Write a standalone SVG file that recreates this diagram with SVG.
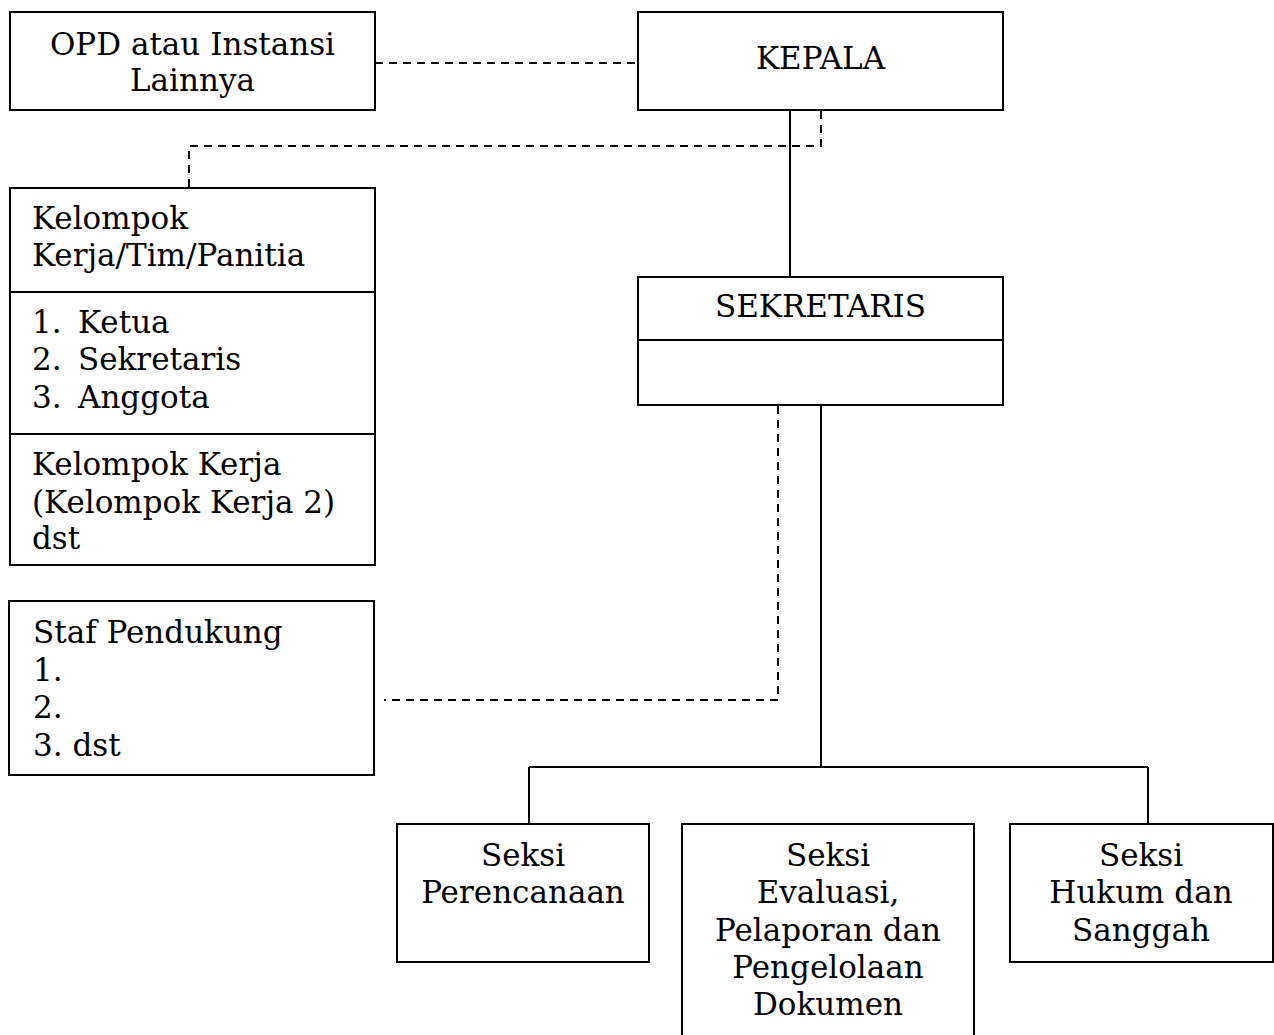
<svg xmlns="http://www.w3.org/2000/svg" width="1274" height="1035" viewBox="0 0 1274 1035">
<style>
.box{fill:#fff;stroke:#000;stroke-width:2}
.ln{fill:none;stroke:#000;stroke-width:2}
.dash{fill:none;stroke:#000;stroke-width:2;stroke-dasharray:8 6}
text{font-family:"DejaVu Serif","Liberation Serif",serif;font-size:31px;fill:#000}
.c{text-anchor:middle}
</style>
<rect width="1274" height="1035" fill="#fff"/>
<g id="connectors">
<path class="dash" d="M375 63H638"/>
<path class="dash" d="M821 111V146H189V187"/>
<path class="ln" d="M790 111V277"/>
<path class="dash" d="M778 406V700H384"/>
<path class="ln" d="M821 406V767"/>
<path class="ln" d="M529 767H1148"/>
<path class="ln" d="M529 767V824"/>
<path class="ln" d="M1148 767V824"/>
</g>
<g id="opd">
<rect class="box" x="10" y="12" width="365" height="98"/>
<text class="c" x="192.5" y="55">OPD atau Instansi</text>
<text class="c" x="192.5" y="91">Lainnya</text>
</g>
<g id="kepala">
<rect class="box" x="638" y="12" width="365" height="98"/>
<text class="c" x="820.5" y="69">KEPALA</text>
</g>
<g id="kelompok">
<rect class="box" x="10" y="188" width="365" height="377"/>
<path class="ln" d="M10 292H375M10 434H375"/>
<text x="32" y="229">Kelompok</text>
<text x="32" y="266">Kerja/Tim/Panitia</text>
<text x="32" y="333">1.</text><text x="78" y="333">Ketua</text>
<text x="32" y="370">2.</text><text x="78" y="370">Sekretaris</text>
<text x="32" y="408">3.</text><text x="78" y="408">Anggota</text>
<text x="32" y="475">Kelompok Kerja</text>
<text x="32" y="513">(Kelompok Kerja 2)</text>
<text x="32" y="549">dst</text>
</g>
<g id="sekretaris">
<rect class="box" x="638" y="277" width="365" height="128"/>
<path class="ln" d="M638 340H1003"/>
<text class="c" x="820.5" y="317">SEKRETARIS</text>
</g>
<g id="staf">
<rect class="box" x="9" y="601" width="365" height="174"/>
<text x="33" y="643">Staf Pendukung</text>
<text x="33" y="681">1.</text>
<text x="33" y="718">2.</text>
<text x="33" y="756">3. dst</text>
</g>
<g id="seksi-perencanaan">
<rect class="box" x="397" y="824" width="252" height="138"/>
<text class="c" x="523" y="866">Seksi</text>
<text class="c" x="523" y="903">Perencanaan</text>
</g>
<g id="seksi-evaluasi">
<rect class="box" x="682" y="824" width="292" height="220"/>
<text class="c" x="828" y="866">Seksi</text>
<text class="c" x="828" y="903">Evaluasi,</text>
<text class="c" x="828" y="941">Pelaporan dan</text>
<text class="c" x="828" y="978">Pengelolaan</text>
<text class="c" x="828" y="1015">Dokumen</text>
</g>
<g id="seksi-hukum">
<rect class="box" x="1010" y="824" width="263" height="138"/>
<text class="c" x="1141" y="866">Seksi</text>
<text class="c" x="1141" y="903">Hukum dan</text>
<text class="c" x="1141" y="941">Sanggah</text>
</g>
</svg>
